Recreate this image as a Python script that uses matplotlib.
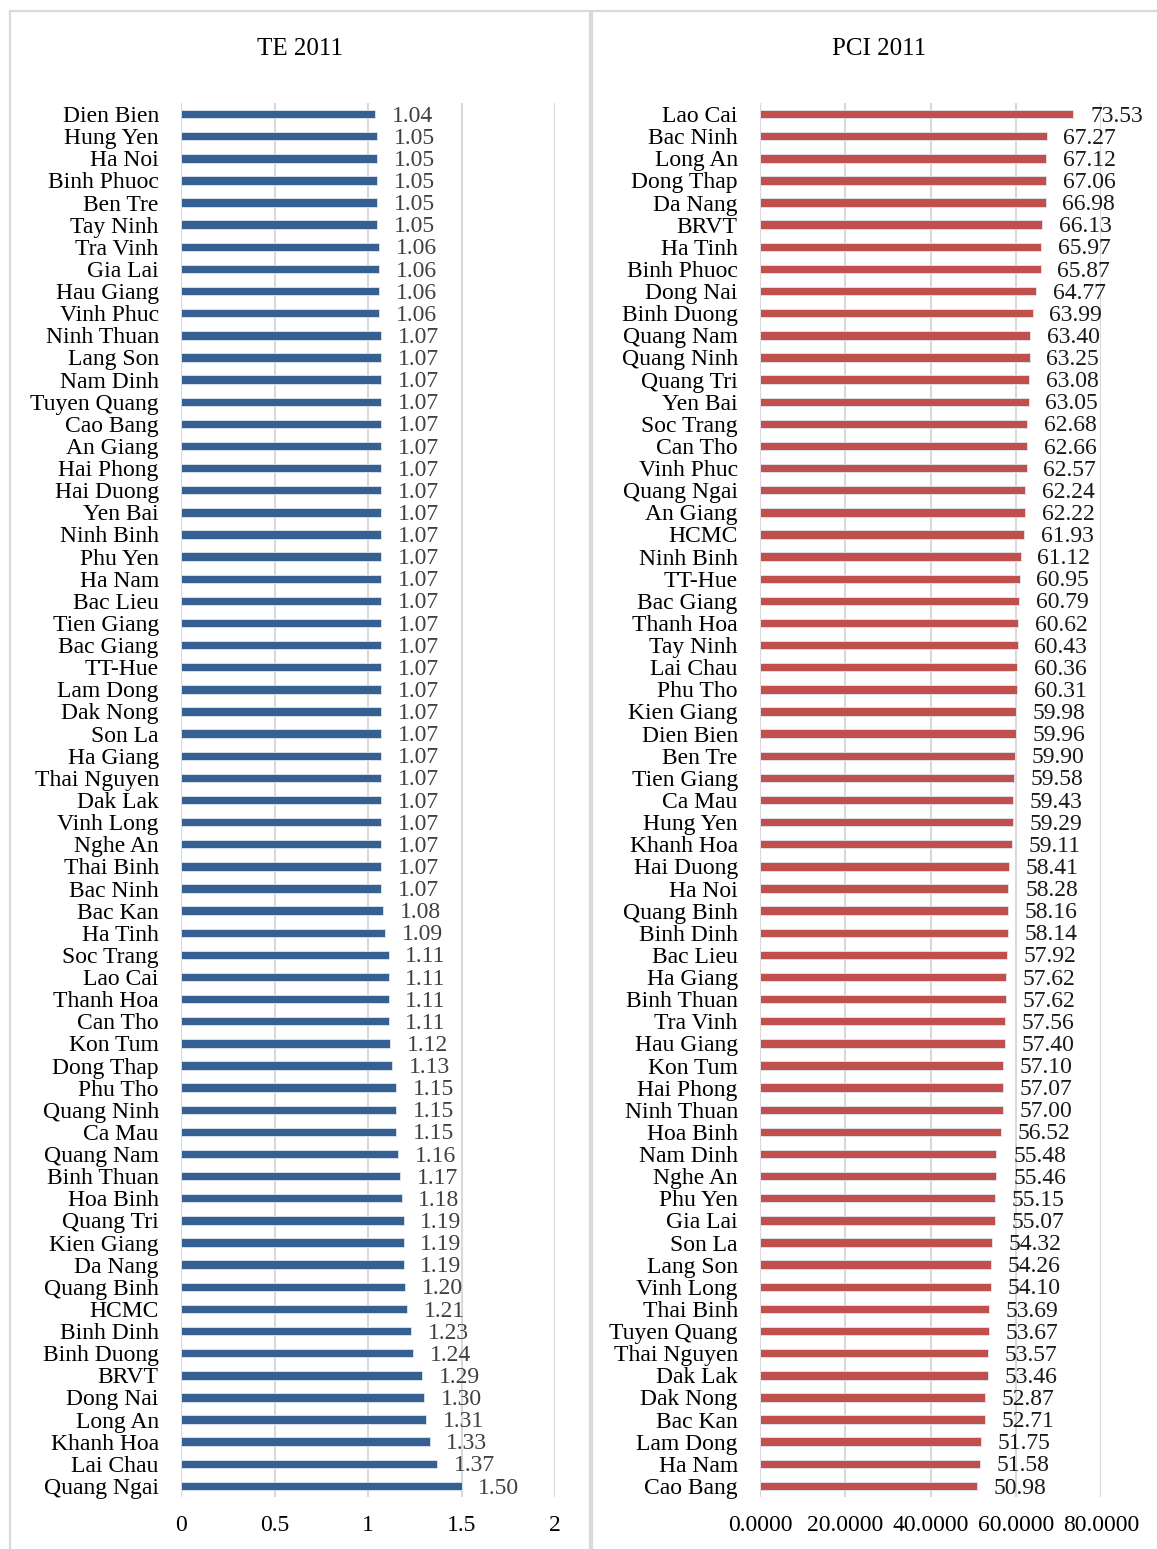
import matplotlib.pyplot as plt
from matplotlib.patches import Rectangle
from matplotlib.ticker import FormatStrFormatter

plt.rcParams['font.family'] = ['Liberation Serif', 'DejaVu Serif']

# Technical efficiency by province, 2011 (top to bottom)
te_provinces = [
    'Dien Bien', 'Hung Yen', 'Ha Noi', 'Binh Phuoc', 'Ben Tre', 'Tay Ninh',
    'Tra Vinh', 'Gia Lai', 'Hau Giang', 'Vinh Phuc', 'Ninh Thuan', 'Lang Son',
    'Nam Dinh', 'Tuyen Quang', 'Cao Bang', 'An Giang', 'Hai Phong', 'Hai Duong',
    'Yen Bai', 'Ninh Binh', 'Phu Yen', 'Ha Nam', 'Bac Lieu', 'Tien Giang',
    'Bac Giang', 'TT-Hue', 'Lam Dong', 'Dak Nong', 'Son La', 'Ha Giang',
    'Thai Nguyen', 'Dak Lak', 'Vinh Long', 'Nghe An', 'Thai Binh', 'Bac Ninh',
    'Bac Kan', 'Ha Tinh', 'Soc Trang', 'Lao Cai', 'Thanh Hoa', 'Can Tho',
    'Kon Tum', 'Dong Thap', 'Phu Tho', 'Quang Ninh', 'Ca Mau', 'Quang Nam',
    'Binh Thuan', 'Hoa Binh', 'Quang Tri', 'Kien Giang', 'Da Nang',
    'Quang Binh', 'HCMC', 'Binh Dinh', 'Binh Duong', 'BRVT', 'Dong Nai',
    'Long An', 'Khanh Hoa', 'Lai Chau', 'Quang Ngai',
]
te_values = [
    1.04, 1.05, 1.05, 1.05, 1.05, 1.05, 1.06, 1.06, 1.06, 1.06,
    1.07, 1.07, 1.07, 1.07, 1.07, 1.07, 1.07, 1.07, 1.07, 1.07,
    1.07, 1.07, 1.07, 1.07, 1.07, 1.07, 1.07, 1.07, 1.07, 1.07,
    1.07, 1.07, 1.07, 1.07, 1.07, 1.07, 1.08, 1.09, 1.11, 1.11,
    1.11, 1.11, 1.12, 1.13, 1.15, 1.15, 1.15, 1.16, 1.17, 1.18,
    1.19, 1.19, 1.19, 1.20, 1.21, 1.23, 1.24, 1.29, 1.30, 1.31,
    1.33, 1.37, 1.50,
]

# Provincial Competitiveness Index 2011 (top to bottom)
pci_provinces = [
    'Lao Cai', 'Bac Ninh', 'Long An', 'Dong Thap', 'Da Nang', 'BRVT',
    'Ha Tinh', 'Binh Phuoc', 'Dong Nai', 'Binh Duong', 'Quang Nam',
    'Quang Ninh', 'Quang Tri', 'Yen Bai', 'Soc Trang', 'Can Tho', 'Vinh Phuc',
    'Quang Ngai', 'An Giang', 'HCMC', 'Ninh Binh', 'TT-Hue', 'Bac Giang',
    'Thanh Hoa', 'Tay Ninh', 'Lai Chau', 'Phu Tho', 'Kien Giang', 'Dien Bien',
    'Ben Tre', 'Tien Giang', 'Ca Mau', 'Hung Yen', 'Khanh Hoa', 'Hai Duong',
    'Ha Noi', 'Quang Binh', 'Binh Dinh', 'Bac Lieu', 'Ha Giang', 'Binh Thuan',
    'Tra Vinh', 'Hau Giang', 'Kon Tum', 'Hai Phong', 'Ninh Thuan', 'Hoa Binh',
    'Nam Dinh', 'Nghe An', 'Phu Yen', 'Gia Lai', 'Son La', 'Lang Son',
    'Vinh Long', 'Thai Binh', 'Tuyen Quang', 'Thai Nguyen', 'Dak Lak',
    'Dak Nong', 'Bac Kan', 'Lam Dong', 'Ha Nam', 'Cao Bang',
]
pci_values = [
    73.53, 67.27, 67.12, 67.06, 66.98, 66.13, 65.97, 65.87, 64.77, 63.99,
    63.40, 63.25, 63.08, 63.05, 62.68, 62.66, 62.57, 62.24, 62.22, 61.93,
    61.12, 60.95, 60.79, 60.62, 60.43, 60.36, 60.31, 59.98, 59.96, 59.90,
    59.58, 59.43, 59.29, 59.11, 58.41, 58.28, 58.16, 58.14, 57.92, 57.62,
    57.62, 57.56, 57.40, 57.10, 57.07, 57.00, 56.52, 55.48, 55.46, 55.15,
    55.07, 54.32, 54.26, 54.10, 53.69, 53.67, 53.57, 53.46, 52.87, 52.71,
    51.75, 51.58, 50.98,
]

W, H = 1157, 1549
fig = plt.figure(figsize=(W / 100, H / 100), dpi=100)

# panel frames
grey = '#d9d9d9'
for x0, x1 in [(10, 590), (592, 1170)]:
    fig.patches.append(Rectangle((x0 / W, -0.01), (x1 - x0) / W, 1.01 - 11 / H,
                                 transform=fig.transFigure, fill=False,
                                 edgecolor=grey, linewidth=1.6))

top, bottom = 1 - 103 / H, 1 - 1497 / H


def panel(left_px, right_px, names, vals, xmax, ticks, color, lab_color, fmt):
    ax = fig.add_axes([left_px / W, bottom, (right_px - left_px) / W, top - bottom])
    y = list(range(len(names)))
    ax.barh(y, vals, height=0.38, color=color, edgecolor='#dfe6ee', linewidth=0.6,
            zorder=3)
    ax.set_ylim(len(names) - 0.5, -0.5)
    ax.set_xlim(0, xmax)
    ax.set_yticks(y)
    ax.set_yticklabels(names)
    ax.set_xticks(ticks)
    ax.xaxis.set_major_formatter(FormatStrFormatter(fmt))
    ax.tick_params(axis='y', length=0, pad=16, labelsize=17, colors='black')
    ax.tick_params(axis='x', length=0, pad=13, labelsize=17, colors='black')
    ax.grid(axis='x', color=grey, linewidth=1.5, zorder=0)
    for s in ax.spines.values():
        s.set_visible(False)
    for yi, v in zip(y, vals):
        ax.annotate(f'{v:.2f}', (v, yi), xytext=(12, -1.5), textcoords='offset points',
                    ha='left', va='center', fontsize=17, color=lab_color)
    return ax


ax1 = panel(181, 555, te_provinces, te_values, 2, [0, 0.5, 1, 1.5, 2],
            '#376092', '#404040', '%g')
ax1.set_xticklabels(['0', '0.5', '1', '1.5', '2'])
ax2 = panel(760, 1101, pci_provinces, pci_values, 80, [0, 20, 40, 60, 80],
            '#c0504d', '#1a1a1a', '%.4f')

fig.text(300 / W, 1 - 49 / H, 'TE 2011', ha='center', va='center', fontsize=18)
fig.text(879 / W, 1 - 49 / H, 'PCI 2011', ha='center', va='center', fontsize=18)

fig.savefig('out.png', dpi=100)
